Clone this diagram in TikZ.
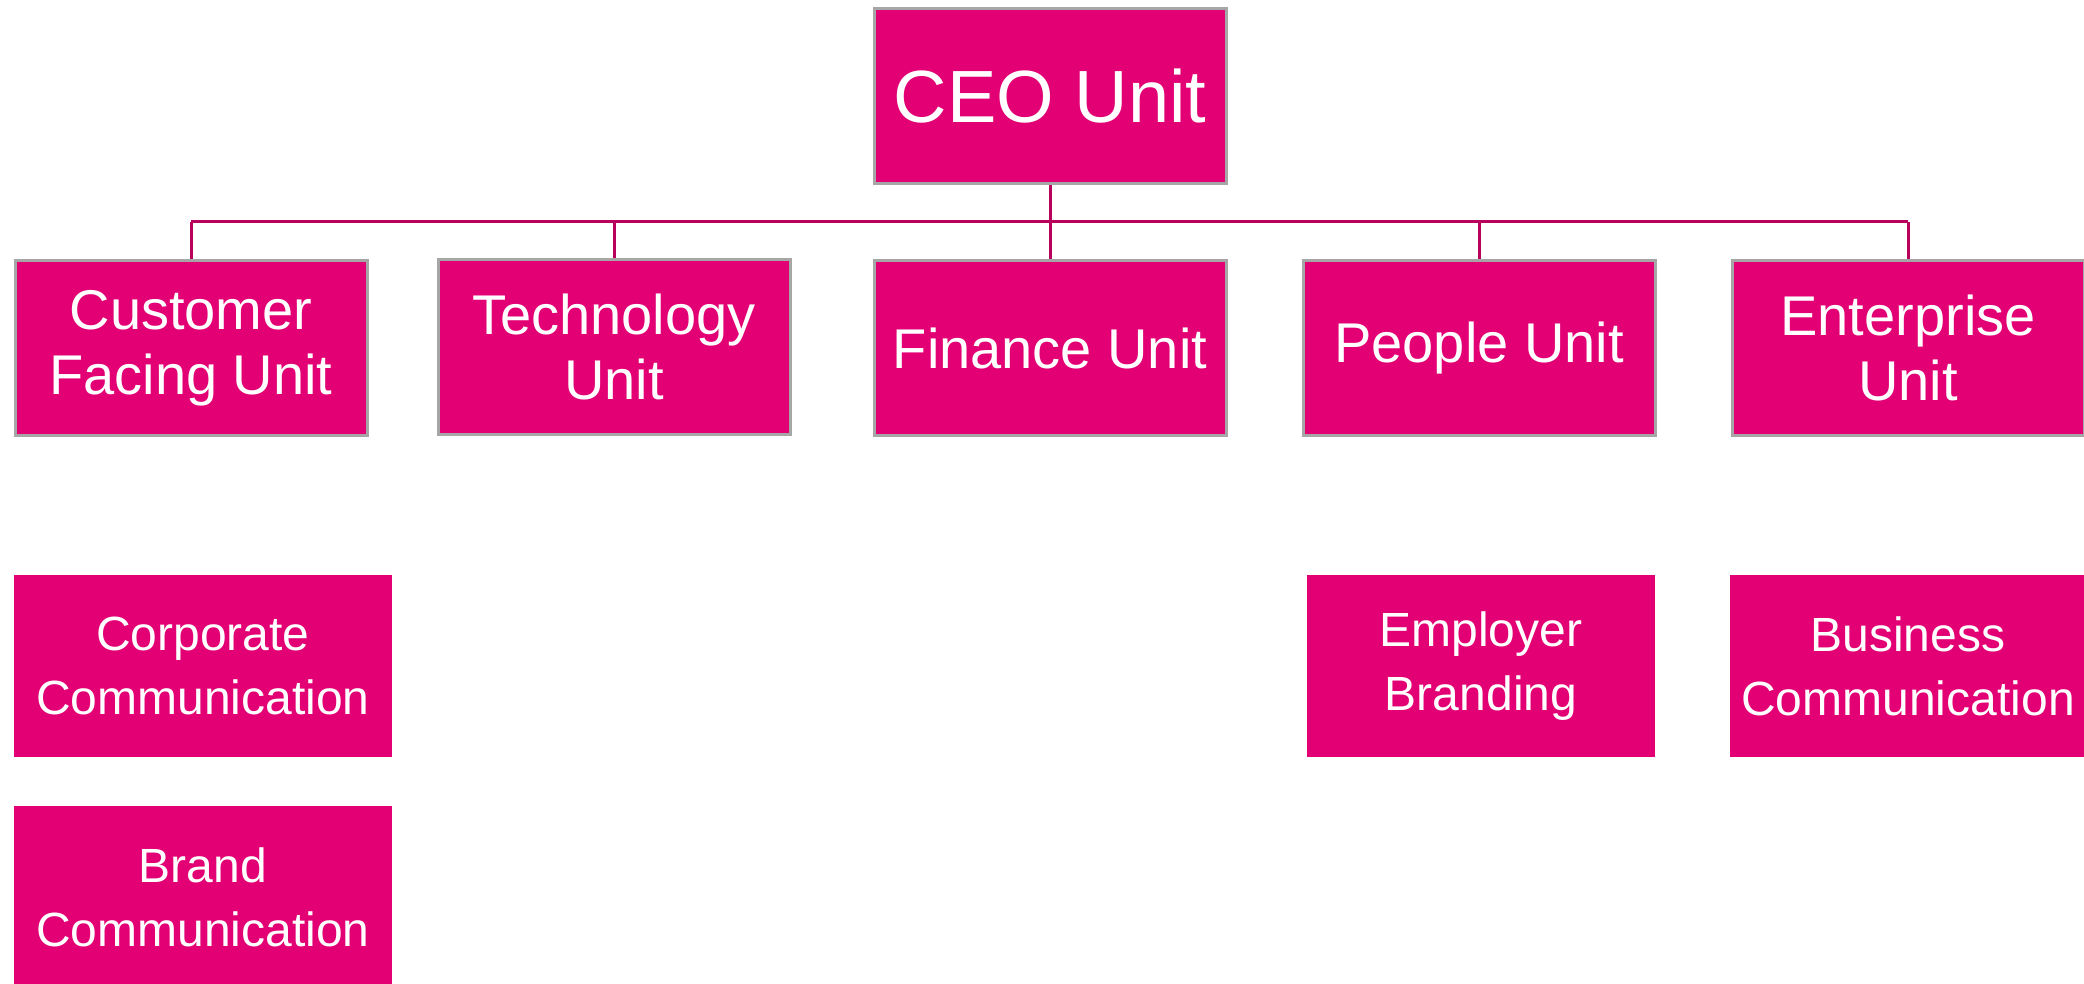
\documentclass[tikz,border=0pt]{standalone}
\usepackage{fontspec}
\setmainfont{Liberation Sans}
\usepackage{xcolor}
\usepackage{tikz}
\usetikzlibrary{positioning,calc}

\definecolor{unitpink}{HTML}{E20074}
\definecolor{linkpink}{HTML}{B8005C}
\definecolor{unitframe}{HTML}{A6A6A6}

\begin{document}
\begin{tikzpicture}[
    x=0.5pt, y=-0.5pt,
    unitbox/.style={rectangle, fill=unitpink, draw=unitframe, line width=1.5pt,
        text=white, align=center, inner sep=0pt,
        minimum width=176pt, minimum height=87.5pt,
        font=\fontsize{28}{32.5}\selectfont},
    ceobox/.style={unitbox, font=\fontsize{37}{40}\selectfont},
    subbox/.style={rectangle, fill=unitpink, text=white, align=center, inner sep=0pt,
        minimum height=91pt, font=\fontsize{24}{32}\selectfont},
    link/.style={draw=linkpink, line width=1.5pt}
]
    \useasboundingbox (0,0) rectangle (2084,984);

    \node[ceobox] (ceo) at (1050,96) {CEO Unit};

    \node[unitbox] (cfu) at (191,348)  {Customer\\Facing Unit};
    \node[unitbox] (tec) at (614,347)  {Technology\\Unit};
    \node[unitbox] (fin) at (1050,348) {Finance Unit};
    \node[unitbox] (peo) at (1479,348) {People Unit};
    \node[unitbox] (ent) at (1908,348) {Enterprise\\Unit};

    \node[subbox, minimum width=189pt] (corp)  at (203,666)  {Corporate\\Communication};
    \node[subbox, minimum width=189pt] (brand) at (203,897)  {Brand\\Communication};
    \node[subbox, minimum width=174pt] (empl)  at (1481,666) {Employer\\Branding};
    \node[subbox, minimum width=178pt] (busi)  at (1908,666) {Business\\Communication};

    \coordinate (bus) at (1050,222);
    \draw[link] (ceo.south) -- (bus);
    \draw[link] (bus -| cfu.north) -- (bus -| ent.north);
    \foreach \u in {cfu,tec,fin,peo,ent}
        \draw[link] (bus -| \u.north) -- (\u.north);
\end{tikzpicture}
\end{document}
